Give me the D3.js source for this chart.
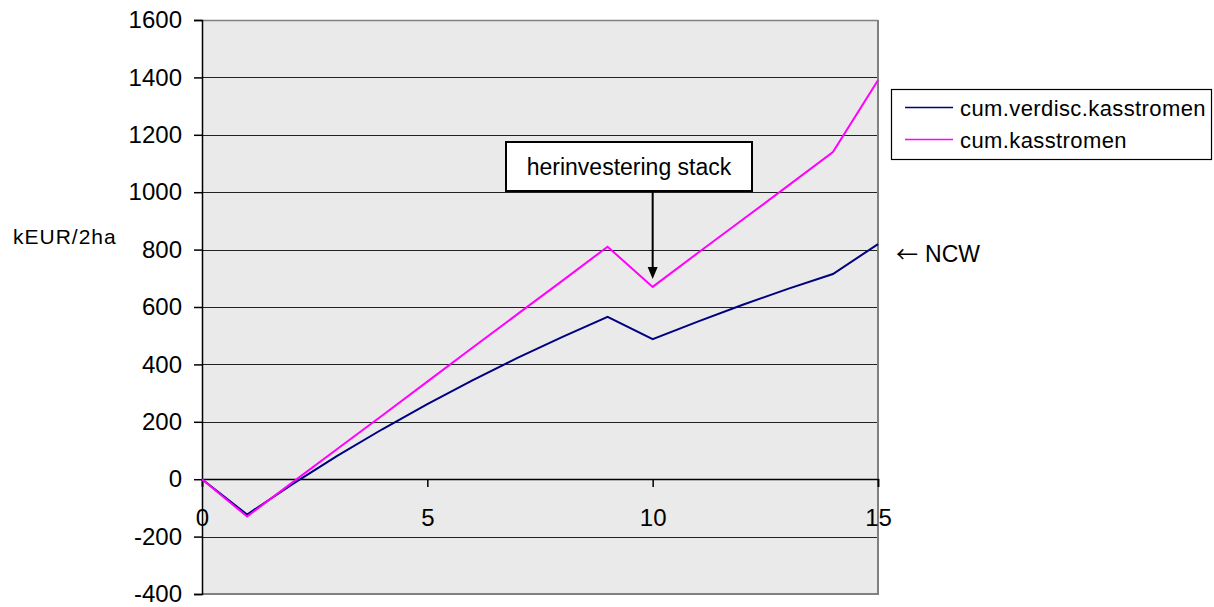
<!DOCTYPE html>
<html><head><meta charset="utf-8">
<script src="https://cdn.jsdelivr.net/npm/d3@7"></script>
<style>
body{margin:0;background:#fff;}
text{font-family:"Liberation Sans",Arial,sans-serif;fill:#000;}
</style></head><body>
<svg id="c" width="1214" height="607"></svg>
<script>
const years = [0,1,2,3,4,5,6,7,8,9,10,11,12,13,14,15];
const cumDisc = [0,-123,-18,81,174,262,344,423,496,566,488,549,608,663,715,819];
const cumCash = [0,-130,-12,105,222,340,458,575,692,810,670,788,905,1022,1140,1390];
const seriesNames = ["cum.verdisc.kasstromen","cum.kasstromen"];
const seriesColors = ["#000080","#ff00ff"];
const yTicks = [-400,-200,0,200,400,600,800,1000,1200,1400,1600];
const xTicks = [0,5,10,15];
const yLabel = "kEUR/2ha";
const annotation = "herinvestering stack";
const annotationYear = 10;
const ncwArrow = "\u2190";
const ncwLabel = "NCW";

const svg = d3.select("#c");
const L=202, R=878, T=20, B=594;
const x = d3.scaleLinear().domain([0,15]).range([L,R]);
const y = d3.scaleLinear().domain([-400,1600]).range([B,T]);
const fmt = d => String(d);

svg.append("rect").attr("x",L).attr("y",T).attr("width",R-L).attr("height",B-T).attr("fill","#eaeaea");

svg.append("g").selectAll("line").data(yTicks.filter(d=>d>-400&&d<1600)).join("line")
  .attr("x1",L).attr("x2",R).attr("y1",d=>Math.round(y(d))+0.5).attr("y2",d=>Math.round(y(d))+0.5)
  .attr("stroke","#222").attr("stroke-width",1);

svg.append("line").attr("x1",L).attr("x2",R).attr("y1",T+0.5).attr("y2",T+0.5).attr("stroke","#808080").attr("stroke-width",1.5);
svg.append("line").attr("x1",R).attr("x2",R).attr("y1",T).attr("y2",B).attr("stroke","#808080").attr("stroke-width",2);
svg.append("line").attr("x1",L).attr("x2",R+1).attr("y1",B).attr("y2",B).attr("stroke","#808080").attr("stroke-width",2);

const yAxis = d3.axisLeft(y).tickValues(yTicks).tickSize(8).tickPadding(12).tickFormat(fmt);
const gy = svg.append("g").attr("transform",`translate(${L},0)`).call(yAxis);
gy.select(".domain").attr("stroke","#000").attr("stroke-width",1.5);
gy.selectAll(".tick line").attr("stroke","#000").attr("stroke-width",1.5);
gy.selectAll("text").attr("font-size",24).attr("font-family","Liberation Sans, Arial, sans-serif").attr("fill","#000");

const xAxis = d3.axisBottom(x).tickValues(xTicks).tickSize(8).tickPadding(22).tickFormat(fmt);
const gx = svg.append("g").attr("transform",`translate(0,${Math.round(y(0))})`).call(xAxis);
gx.select(".domain").attr("stroke","#000").attr("stroke-width",1.5);
gx.selectAll(".tick line").attr("stroke","#000").attr("stroke-width",1.5);
gx.selectAll("text").attr("font-size",24).attr("font-family","Liberation Sans, Arial, sans-serif").attr("fill","#000");

const line = d3.line().x((d,i)=>x(years[i])).y(d=>y(d));
[cumDisc,cumCash].forEach((s,k)=>{
  svg.append("path").datum(s).attr("d",line).attr("fill","none")
    .attr("stroke",seriesColors[k]).attr("stroke-width",2).attr("stroke-linejoin","miter");
});

svg.append("text").attr("x",13).attr("y",244).attr("font-size",21).attr("letter-spacing",1).text(yLabel);

const ax = x(annotationYear);
const bx0=506, bx1=752, by0=142, by1=191;
svg.append("rect").attr("x",bx0).attr("y",by0).attr("width",bx1-bx0).attr("height",by1-by0)
  .attr("fill","#fff").attr("stroke","#000").attr("stroke-width",2);
svg.append("text").attr("x",(bx0+bx1)/2).attr("y",175).attr("text-anchor","middle").attr("font-size",23).text(annotation);
const tipY = y(cumCash[annotationYear]) - 8;
svg.append("line").attr("x1",ax).attr("x2",ax).attr("y1",by1).attr("y2",tipY-10).attr("stroke","#000").attr("stroke-width",2);
svg.append("path").attr("d",`M${ax-5},${tipY-12}L${ax+5},${tipY-12}L${ax},${tipY}Z`).attr("fill","#000");

const lg = svg.append("g");
lg.append("rect").attr("x",891.5).attr("y",89.5).attr("width",320).attr("height",70).attr("fill","#fff").attr("stroke","#000").attr("stroke-width",1.2);
seriesNames.forEach((n,i)=>{
  const yy = 107.5 + i*32;
  lg.append("line").attr("x1",905).attr("x2",953).attr("y1",yy).attr("y2",yy).attr("stroke",seriesColors[i]).attr("stroke-width",1.6);
  lg.append("text").attr("x",960).attr("y",yy+8).attr("font-size",22).attr("letter-spacing",0.4).text(n);
});

const nt = svg.append("text").attr("x",896).attr("y",262).attr("font-size",23);
nt.append("tspan").attr("font-family","Noto Sans CJK JP").attr("font-size",22).text(ncwArrow);
nt.append("tspan").attr("dx",7).attr("font-family","Liberation Sans, Arial, sans-serif").text(ncwLabel);
</script>
</body></html>
